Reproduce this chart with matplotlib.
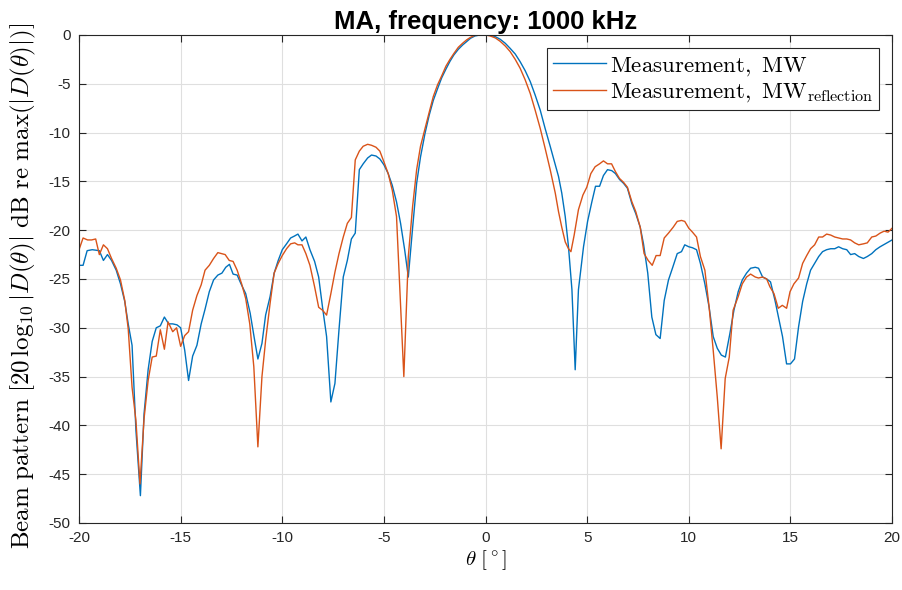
import matplotlib
matplotlib.use('Agg')
import matplotlib.pyplot as plt

plt.rcParams['mathtext.fontset'] = 'cm'
plt.rcParams['axes.unicode_minus'] = False

# beam pattern, MW
theta_mw = [-20, -19.8, -19.6, -19.35, -19.0, -18.8, -18.6, -18.4, -18.17, -17.96, -17.75, -17.58, -17.39,
            -17.2, -16.98, -16.8, -16.6, -16.4, -16.2, -16.0, -15.8, -15.59, -15.39, -15.18, -15.0, -14.8,
            -14.61, -14.41, -14.2, -13.99, -13.8, -13.59, -13.38, -13.17, -12.97, -12.78, -12.6, -12.42,
            -12.22, -12.03, -11.8, -11.58, -11.39, -11.2, -11.0, -10.82, -10.6, -10.4, -10.2, -10.0, -9.79,
            -9.59, -9.4, -9.23, -9.03, -8.84, -8.64, -8.41, -8.21, -8.02, -7.82, -7.61, -7.41, -7.21, -7.0,
            -6.8, -6.6, -6.41, -6.21, -6.02, -5.8, -5.61, -5.39, -5.2, -5.0, -4.79, -4.59, -4.38, -4.18,
            -3.98, -3.8, -3.59, -3.39, -3.2, -2.98, -2.77, -2.57, -2.36, -2.16, -1.95, -1.75, -1.56, -1.34,
            -1.13, -0.93, -0.74, -0.52, -0.28, 0.0, 0.23, 0.48, 0.72, 0.97, 1.21, 1.46, 1.7, 1.95, 2.2, 2.44,
            2.69, 2.93, 3.18, 3.43, 3.59, 3.75, 3.92, 4.08, 4.25, 4.41, 4.57, 4.82, 5.02, 5.23, 5.41, 5.61,
            5.8, 6.0, 6.21, 6.39, 6.59, 6.79, 6.98, 7.2, 7.39, 7.61, 7.77, 7.98, 8.18, 8.38, 8.59, 8.79, 9.0,
            9.21, 9.43, 9.64, 9.8, 10.0, 10.18, 10.38, 10.57, 10.79, 11.0, 11.2, 11.4, 11.6, 11.8, 12.02,
            12.22, 12.43, 12.63, 12.84, 13.04, 13.27, 13.43, 13.63, 13.83, 14.02, 14.24, 14.43, 14.61, 14.81,
            15.0, 15.2, 15.4, 15.6, 15.8, 15.99, 16.19, 16.39, 16.58, 16.78, 16.98, 17.18, 17.37, 17.57,
            17.77, 17.96, 18.16, 18.36, 18.59, 18.78, 19.0, 19.2, 19.41, 19.66, 19.9, 20.0]
bp_mw = [-23.6, -23.6, -22.1, -22.0, -22.1, -23.1, -22.5, -23.1, -24.1, -25.5, -27.3, -29.6, -31.8,
         -40.5, -47.2, -38.8, -34.3, -31.4, -30.0, -29.8, -28.9, -29.6, -29.6, -29.7, -30.0, -32.3,
         -35.4, -32.9, -31.8, -29.6, -28.1, -26.3, -25.1, -24.6, -24.4, -23.8, -23.5, -24.5,
         -24.6, -25.5, -26.5, -28.5, -30.9, -33.2, -31.6, -28.7, -26.8, -24.4, -23.1, -22.0, -21.4,
         -20.8, -20.6, -20.4, -21.1, -20.7, -22.0, -23.2, -24.8, -27.9, -30.9, -37.6, -35.7, -30.2, -24.8,
         -23.1, -20.9, -20.3, -13.8, -13.2, -12.6, -12.3, -12.4, -12.7, -13.3, -14.2, -15.4, -17.1, -19.3,
         -22.0, -24.8, -19.8, -15.2, -12.5, -10.1, -8.2, -6.7, -5.5, -4.4, -3.5, -2.7, -2.05, -1.47,
         -1.03, -0.68, -0.34, -0.1, 0.0, 0.0, -0.03, -0.17, -0.44, -0.85, -1.37, -1.95, -2.73, -3.66, -4.78, -6.15,
         -7.7, -9.57, -11.4, -13.3, -14.5, -16.2, -18.6, -21.7, -26.1, -34.3, -26.1, -21.7, -19.1, -17.1, -15.5, -15.5,
         -14.4, -13.8, -13.9, -14.2, -14.8, -15.2, -15.7, -17.3, -18.3, -19.7, -21.4, -24.4, -28.9, -30.7, -31.1, -27.2, -25.1,
         -23.8, -22.4, -22.2, -21.5, -21.7, -21.8, -22.0, -23.4, -25.5, -27.9, -30.9, -32.1, -32.8, -33.0, -30.6,
         -28.2, -26.3, -25.1, -24.4, -23.9, -23.8, -23.9, -24.8, -25.0, -25.3, -27.2, -29.1, -30.9, -33.7,
         -33.7, -33.2, -29.9, -27.3, -25.5, -24.1, -23.4, -22.7, -22.2, -22.0, -21.9, -21.9, -21.7, -21.9,
         -22.0, -22.5, -22.4, -22.7, -22.9, -22.7, -22.4, -22.0, -21.7, -21.4, -21.1, -21.0]

# beam pattern, MW reflection
theta_ref = [-20, -19.8, -19.58, -19.38, -19.18, -19.0, -18.8, -18.6, -18.4, -18.17, -17.96, -17.75, -17.58,
             -17.39, -17.2, -17.0, -16.8, -16.6, -16.4, -16.2, -16.0, -15.8, -15.62, -15.39, -15.2, -15.0,
             -14.8, -14.61, -14.41, -14.2, -13.99, -13.8, -13.59, -13.38, -13.17, -12.81, -12.61, -12.42,
             -12.22, -12.0, -11.8, -11.6, -11.4, -11.2, -11.0, -10.82, -10.6, -10.4, -10.2, -10.0, -9.79,
             -9.59, -9.39, -9.23, -9.03, -8.84, -8.64, -8.41, -8.21, -8.02, -7.82, -7.61, -7.41, -7.21, -7.0,
             -6.8, -6.6, -6.41, -6.21, -6.02, -5.8, -5.61, -5.39, -5.2, -5.0, -4.79, -4.59, -4.38, -4.02,
             -3.8, -3.59, -3.39, -3.2, -2.98, -2.77, -2.57, -2.36, -2.16, -1.95, -1.75, -1.56, -1.34, -1.13,
             -0.93, -0.74, -0.52, -0.28, 0.0, 0.23, 0.48, 0.72, 0.97, 1.21, 1.46, 1.7, 1.95, 2.2, 2.44, 2.69,
             2.93, 3.18, 3.43, 3.59, 3.75, 3.92, 4.08, 4.2, 4.36, 4.57, 4.79, 4.98, 5.18, 5.39, 5.61, 5.8,
             6.0, 6.2, 6.39, 6.59, 6.79, 6.98, 7.2, 7.39, 7.61, 7.8, 8.0, 8.2, 8.39, 8.59, 8.79, 9.0, 9.23,
             9.43, 9.64, 9.8, 10.0, 10.18, 10.38, 10.57, 10.79, 11.0, 11.2, 11.4, 11.59, 11.79, 11.99, 12.18,
             12.43, 12.63, 12.84, 13.04, 13.27, 13.43, 13.63, 13.83, 13.99, 14.19, 14.4, 14.6, 14.81, 14.98,
             15.17, 15.4, 15.6, 15.8, 15.99, 16.19, 16.39, 16.58, 16.78, 16.98, 17.18, 17.37, 17.57, 17.77,
             17.96, 18.16, 18.36, 18.59, 18.78, 19.0, 19.2, 19.41, 19.61, 19.8, 20.0]
bp_ref = [-22.0, -20.8, -21.0, -21.0, -20.9, -22.5, -21.5, -21.9, -22.9, -23.9, -25.1, -27.2, -30.1,
          -36.1, -39.5, -46.0, -39.3, -35.4, -33.0, -32.9, -30.2, -32.2, -29.4, -30.4, -30.0, -31.9,
          -30.8, -30.4, -28.2, -26.7, -25.6, -24.1, -23.6, -22.9, -22.3, -22.5, -23.1, -23.2,
          -24.1, -25.5, -27.0, -29.6, -34.0, -42.2, -35.0, -31.3, -27.5, -24.4, -23.4, -22.6, -21.9,
          -21.4, -21.3, -21.5, -21.5, -22.4, -23.6, -25.8, -27.9, -28.2, -28.7, -26.5, -24.3, -22.4, -20.7,
          -19.3, -18.7, -12.8, -11.9, -11.4, -11.2, -11.3, -11.5, -11.9, -13.0, -14.2, -15.9, -18.6, -35.0,
          -22.7, -17.6, -13.8, -11.4, -9.6, -7.9, -6.3, -5.1, -4.2, -3.2, -2.5, -1.9, -1.26, -0.85,
          -0.5, -0.24, -0.03, 0.0, 0.0, -0.1, -0.3, -0.65, -1.13, -1.7, -2.5, -3.4, -4.6, -6.0, -7.7, -9.57,
          -11.6, -13.8, -16.2, -18.1, -19.7, -21.2, -21.9, -22.2, -20.5, -17.9, -16.4, -15.6, -14.2, -13.5, -13.2, -12.9,
          -13.2, -13.2, -14.0, -14.7, -15.1, -15.6, -17.1, -18.1, -19.7, -22.4, -23.1, -23.6, -22.6, -22.6, -20.8, -20.3, -19.7,
          -19.1, -19.0, -19.1, -19.8, -20.2, -20.7, -22.7, -24.1, -27.9, -32.3, -37.1, -42.4, -35.2, -33.0, -28.2,
          -26.8, -25.5, -24.8, -24.5, -24.8, -24.9, -24.8, -25.0, -25.8, -26.5, -28.0, -27.7, -28.0, -26.3,
          -25.5, -24.9, -23.4, -22.6, -21.9, -21.5, -20.7, -20.7, -20.4, -20.5, -20.7, -20.8, -20.9, -20.9,
          -21.0, -21.3, -21.5, -21.4, -21.3, -20.7, -20.6, -20.3, -20.1, -20.2, -19.8]

fig = plt.figure(figsize=(9.02, 5.9), dpi=100)
ax = fig.add_axes([0.0876, 0.1136, 0.9014, 0.8271])

ax.plot(theta_mw, bp_mw, color='#0072BD', lw=1.0,
        label=r'$\mathrm{Measurement,\ MW}$')
ax.plot(theta_ref, bp_ref, color='#D95319', lw=1.0,
        label=r'$\mathrm{Measurement,\ MW_{reflection}}$')

ax.set_xlim(-20, 20)
ax.set_ylim(-50, 0)
ax.set_xticks(range(-20, 21, 5))
ax.set_yticks(range(-50, 1, 5))
ax.grid(True, color='#dfdfdf', lw=0.8)
ax.set_axisbelow(True)
ax.tick_params(direction='in', length=5, top=True, right=True, labelsize=11,
               color='#262626', labelcolor='#262626', pad=6)
for sp in ax.spines.values():
    sp.set_color('#262626')
    sp.set_linewidth(0.8)
for lab in ax.get_xticklabels() + ax.get_yticklabels():
    lab.set_family('Liberation Sans')

ax.set_title('MA, frequency: 1000 kHz', fontsize=18.5, fontweight='bold',
             family='Liberation Sans', pad=4)
ax.set_xlabel(r'$\theta\ [^\circ]$', fontsize=15, labelpad=2)
ax.set_ylabel(r'$\mathrm{Beam\ pattern\ }[20\,\log_{10}|D(\theta)|\mathrm{\ dB\ re\ max}(|D(\theta)|)]$',
              fontsize=18, labelpad=8)
ax.yaxis.set_label_coords(-0.05, 0.485)

leg = ax.legend(loc='upper right', fontsize=16.5, fancybox=False, framealpha=1,
                edgecolor='#262626', borderaxespad=0.55, handlelength=2.3,
                borderpad=0.25, labelspacing=0.1, handletextpad=0.2)
leg.get_frame().set_linewidth(0.8)

fig.savefig('out.png', dpi=100)
